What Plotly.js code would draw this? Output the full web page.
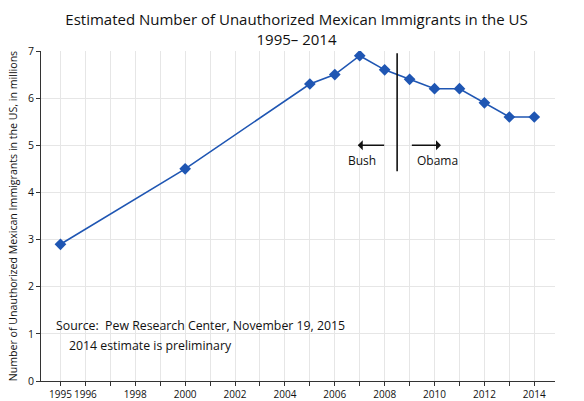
<!DOCTYPE html>
<html>
<head>
<meta charset="utf-8">
<script src="https://cdn.plot.ly/plotly-3.0.1.min.js"></script>
<style>
  html, body { margin: 0; padding: 0; background: #fff; }
  #chart { width: 584px; height: 401px; }
</style>
</head>
<body>
<div id="chart"></div>
<script>
// Pew Research Center estimates, millions
var years = [1995, 2000, 2005, 2006, 2007, 2008, 2009, 2010, 2011, 2012, 2013, 2014];
var immigrants = [2.9, 4.5, 6.3, 6.5, 6.9, 6.6, 6.4, 6.2, 6.2, 5.9, 5.6, 5.6];

var tickYears = [1995, 1996, 1997, 1998, 1999, 2000, 2001, 2002, 2003, 2004,
                 2005, 2006, 2007, 2008, 2009, 2010, 2011, 2012, 2013, 2014];
var tickLabels = ['1995', '1996', '', '1998', '', '2000', '', '2002', '', '2004',
                  '', '2006', '', '2008', '', '2010', '', '2012', '', '2014'];

var changeYear = 2008.5;   // Bush -> Obama
var font = 'Open Sans, sans-serif';

var data = [{
  x: years,
  y: immigrants,
  mode: 'lines+markers',
  type: 'scatter',
  line: {color: '#1f56b3', width: 1.6},
  marker: {symbol: 'diamond', size: 9, color: '#1f56b3'},
  hoverinfo: 'x+y'
}, {
  x: [changeYear, changeYear],
  y: [4.45, 6.95],
  mode: 'lines',
  type: 'scatter',
  line: {color: '#111', width: 1.6},
  hoverinfo: 'skip'
}];

var layout = {
  width: 584,
  height: 401,
  margin: {l: 41, r: 29, t: 51, b: 20},
  showlegend: false,
  paper_bgcolor: '#fff',
  plot_bgcolor: '#fff',
  font: {family: font, size: 11, color: '#111'},
  title: {
    text: 'Estimated Number of Unauthorized Mexican Immigrants in the US<br>1995– 2014',
    font: {family: font, size: 15, color: '#111'},
    x: 296.5 / 584, xanchor: 'center', xref: 'container',
    y: 1 - 25 / 401, yanchor: 'middle', yref: 'container'
  },
  xaxis: {
    range: [1994.22, 2014.83],
    tickvals: tickYears,
    ticktext: tickLabels,
    tickangle: 0,
    ticks: 'outside', ticklen: 4, tickcolor: '#333',
    showgrid: true, gridcolor: '#e6e6e6', gridwidth: 1,
    showline: true, linecolor: '#333', linewidth: 1,
    zeroline: false,
    tickfont: {size: 10}
  },
  yaxis: {
    range: [0, 7],
    dtick: 1,
    ticks: 'outside', ticklen: 4, tickcolor: '#333',
    showgrid: true, gridcolor: '#e6e6e6', gridwidth: 1,
    showline: true, linecolor: '#333', linewidth: 1,
    zeroline: false,
    tickfont: {size: 10.5},
    title: {text: 'Number of Unauthorized Mexican Immigrants in the US, in millions',
            font: {size: 10.6}, standoff: 8}
  },
  annotations: [
    {x: 2007.98, y: 5.0, ax: 2006.86, ay: 5.0, axref: 'x', ayref: 'y',
     xref: 'x', yref: 'y', text: '', showarrow: true, arrowhead: 0, arrowwidth: 1.4, arrowcolor: '#111',
     startarrowhead: 1, arrowside: 'start', startarrowsize: 1.2},
    {x: 2010.26, y: 5.0, ax: 2009.03, ay: 5.0, axref: 'x', ayref: 'y',
     xref: 'x', yref: 'y', text: '', showarrow: true, arrowhead: 1, arrowsize: 1.2, arrowwidth: 1.4, arrowcolor: '#111'},
    {x: 2007.1, y: 4.67, xref: 'x', yref: 'y', text: 'Bush', showarrow: false, font: {size: 12}},
    {x: 2010.1, y: 4.67, xref: 'x', yref: 'y', text: 'Obama', showarrow: false, font: {size: 12}},
    {x: 54, y: 325, xref: 'paper', yref: 'paper', text: 'Source:  Pew Research Center, November 19, 2015',
     showarrow: false, xanchor: 'left', yanchor: 'middle', font: {size: 12.3}},
    {x: 67, y: 345, xref: 'paper', yref: 'paper', text: '2014 estimate is preliminary',
     showarrow: false, xanchor: 'left', yanchor: 'middle', font: {size: 12.3}}
  ]
};

// paper coords for the two notes were given in pixels; convert
var pw = layout.width - layout.margin.l - layout.margin.r;
var ph = layout.height - layout.margin.t - layout.margin.b;
layout.annotations.slice(4).forEach(function (a) {
  a.x = (a.x - layout.margin.l) / pw;
  a.y = 1 - (a.y - layout.margin.t) / ph;
});

Plotly.newPlot('chart', data, layout, {displayModeBar: false, staticPlot: true});
</script>
</body>
</html>
